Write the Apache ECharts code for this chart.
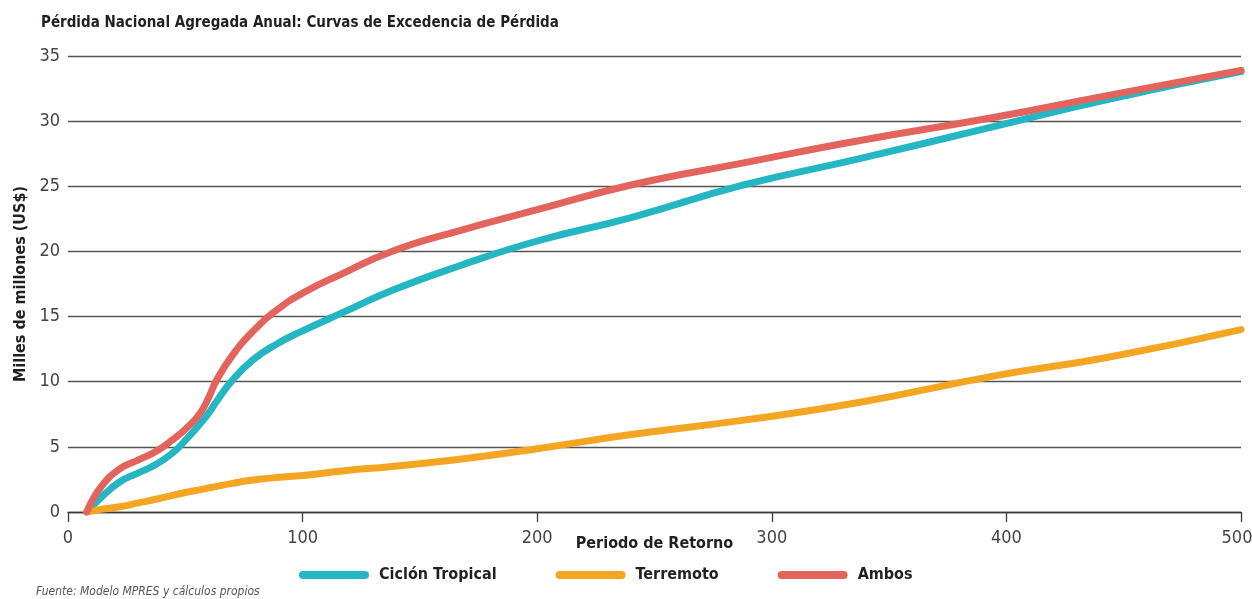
<!DOCTYPE html>
<html>
<head>
<meta charset="utf-8">
<script src="https://cdn.jsdelivr.net/npm/echarts@6/dist/echarts.min.js"></script>
<style>
  html, body { margin: 0; padding: 0; background: #fff; }
  #chart { width: 1252px; height: 599px; }
</style>
</head>
<body>
<div id="chart"></div>
<script>
  // periodo de retorno (años)
  var periodos = [8, 14, 22, 30, 38, 45, 50, 56, 60, 63, 70, 79, 89, 100, 117, 138, 167, 200, 240, 288, 337, 395, 444, 500];
  // miles de millones US$
  var ciclon = [0, 1.1, 2.3, 3.0, 3.7, 4.6, 5.5, 6.7, 7.6, 8.4, 10.1, 11.7, 12.9, 13.9, 15.3, 17.0, 18.9, 20.8, 22.6, 25.1, 27.1, 29.6, 31.7, 33.8];
  var terremoto = [0, 0.2, 0.4, 0.7, 1.0, 1.3, 1.5, 1.7, 1.85, 1.95, 2.2, 2.45, 2.65, 2.8, 3.15, 3.5, 4.05, 4.85, 5.95, 7.05, 8.4, 10.45, 11.9, 14.0];
  var ambos = [0, 1.9, 3.3, 4.0, 4.7, 5.6, 6.35, 7.5, 8.8, 10.0, 12.0, 13.9, 15.5, 16.8, 18.3, 20.0, 21.6, 23.2, 25.1, 26.8, 28.5, 30.3, 32.0, 33.9];
  var xTicks = [0, 100, 200, 300, 400, 500];
  var yTicks = [0, 5, 10, 15, 20, 25, 30, 35];

  var FONT = '"DejaVu Sans Condensed", "Liberation Sans Narrow", sans-serif';
  var pill = 'path://M4,0 H66 A4,4 0 0 1 66,8 H4 A4,4 0 0 1 4,0 Z';

  function pares(ys) {
    return periodos.map(function (p, i) { return [p, ys[i]]; });
  }

  function serie(nombre, ys, color) {
    return {
      name: nombre,
      type: 'line',
      data: pares(ys),
      smooth: 0.5,
      showSymbol: false,
      symbol: 'none',
      lineStyle: { color: color, width: 7, cap: 'round', join: 'round' },
      itemStyle: { color: color }
    };
  }

  var xMax = xTicks[xTicks.length - 1];

  var myChart = echarts.init(document.getElementById('chart'), null, { renderer: 'canvas' });
  myChart.setOption({
    animation: false,
    textStyle: { fontFamily: FONT },
    title: {
      text: 'Pérdida Nacional Agregada Anual: Curvas de Excedencia de Pérdida',
      left: 36,
      top: 11,
      textStyle: { fontFamily: FONT, fontSize: 15, fontWeight: 'bold', color: '#231f20' }
    },
    legend: {
      left: 294,
      top: 562,
      itemWidth: 70,
      itemHeight: 8,
      itemGap: 59,
      textStyle: { fontFamily: FONT, fontSize: 16, fontWeight: 'bold', color: '#231f20', padding: [0, 0, 0, 5] },
      data: [
        { name: 'Ciclón Tropical', icon: pill },
        { name: 'Terremoto', icon: pill },
        { name: 'Ambos', icon: pill }
      ]
    },
    grid: { left: 68, right: 11, top: 56, bottom: 87, outerBoundsMode: 'none' },
    xAxis: {
      type: 'value',
      min: xTicks[0],
      max: xMax,
      interval: 100,
      name: 'Periodo de Retorno',
      nameLocation: 'middle',
      nameGap: 24,
      nameMoveOverlap: false,
      nameTextStyle: { fontFamily: FONT, fontSize: 16, fontWeight: 'bold', color: '#231f20' },
      axisLine: { show: true, lineStyle: { color: '#3a3a3a', width: 1.3 } },
      axisTick: { show: true, length: 10, lineStyle: { color: '#3a3a3a', width: 1.3 } },
      axisLabel: {
        margin: 17, fontSize: 18, color: '#444', fontFamily: FONT,
        formatter: function (v) { return v === xMax ? '{r|' + v + '}' : String(v); },
        rich: { r: { fontSize: 18, color: '#444', fontFamily: FONT, padding: [0, 8, 0, 0] } }
      },
      splitLine: { show: false }
    },
    yAxis: {
      type: 'value',
      min: yTicks[0],
      max: yTicks[yTicks.length - 1],
      interval: 5,
      name: 'Milles de millones (US$)',
      nameLocation: 'middle',
      nameGap: 36,
      nameTextStyle: { fontFamily: FONT, fontSize: 16, fontWeight: 'bold', color: '#231f20' },
      axisLine: { show: false },
      axisTick: { show: false },
      axisLabel: { margin: 8, fontSize: 18, color: '#444', fontFamily: FONT },
      splitLine: { show: true, lineStyle: { color: '#555', width: 1.3 } }
    },
    graphic: [{
      type: 'text',
      left: 36,
      top: 586,
      style: {
        text: 'Fuente: Modelo MPRES y cálculos propios',
        font: 'italic 12px ' + FONT,
        fill: '#555'
      }
    }],
    series: [
      serie('Ciclón Tropical', ciclon, '#25b6c4'),
      serie('Terremoto', terremoto, '#f4a622'),
      serie('Ambos', ambos, '#e2645c')
    ]
  });
</script>
</body>
</html>
